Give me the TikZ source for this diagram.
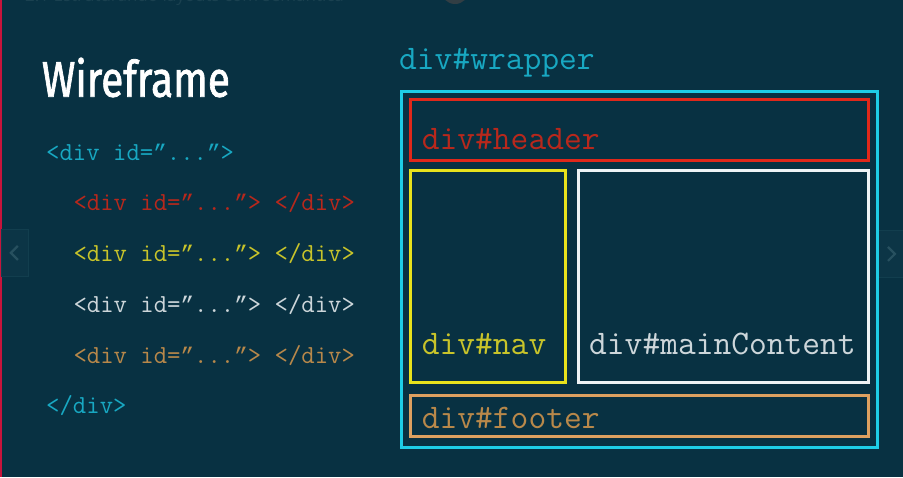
\documentclass[tikz,border=0pt]{standalone}
\usepackage{fontspec}
\usepackage{graphicx}
\newfontfamily\titlefont[FakeBold=1.6]{Fira Sans}
\newfontfamily\topfont{Open Sans}
\newfontfamily\qfont{Liberation Mono}
\newcommand\cq{{\qfont\fontsize{22.6pt}{26pt}\selectfont ”}}
\definecolor{bg}{HTML}{083142}
\definecolor{cybrd}{HTML}{1ECDE6}
\definecolor{cytxt}{HTML}{18A8C2}
\definecolor{rdbrd}{HTML}{E0281A}
\definecolor{rdtxt}{HTML}{B8281C}
\definecolor{ylbrd}{HTML}{E8E21C}
\definecolor{yltxt}{HTML}{C8C42A}
\definecolor{whbrd}{HTML}{EEF3F5}
\definecolor{whtxt}{HTML}{CDD6DA}
\definecolor{orbrd}{HTML}{DDA060}
\definecolor{ortxt}{HTML}{B8884A}
\definecolor{faint}{HTML}{1A4150}
\definecolor{navbox}{HTML}{0C3546}
\definecolor{navedge}{HTML}{123E4E}
\definecolor{navchev}{HTML}{27505F}
\definecolor{redline}{HTML}{C8143C}
\definecolor{capgray}{HTML}{323E44}
\tikzset{
  wire/.style={draw=#1, line width=3pt, inner sep=0pt, outer sep=0pt, anchor=north west},
  boxlabel/.style={text=#1, font=\ttfamily\fontsize{34.5pt}{35pt}\selectfont, anchor=base west, inner sep=0pt},
  codeline/.style={text=#1, font=\ttfamily\fontsize{26pt}{26pt}\selectfont, anchor=base west, inner sep=0pt},
  navbtn/.style={fill=navbox, draw=navedge, line width=0.8pt, inner sep=0pt, anchor=north west, minimum width=27pt, minimum height=47pt},
  chev/.style={draw=navchev, line width=2.2pt}
}
\begin{document}
\begin{tikzpicture}[x=1pt, y=-1pt]
\useasboundingbox (0,0) rectangle (903,477);
\fill[bg] (0,0) rectangle (903,477);
\begin{scope}
\clip (0,0) rectangle (903,477);
\fill[capgray] (455,-10) circle (14);
\node[text=faint, font=\topfont\fontsize{17pt}{17pt}\selectfont, anchor=base west, inner sep=0pt] (toptitle) at (25,1) {2.1 Estruturando layouts com semântica};
\end{scope}
\fill[redline] (0,0) rectangle (1.5,477);
% navigation buttons
\node[navbtn] (prevbtn) at (1,229) {};
\draw[chev] ([xshift=3pt,yshift=7pt]prevbtn.center) -- ([xshift=-4pt]prevbtn.center) -- ([xshift=3pt,yshift=-7pt]prevbtn.center);
\node[navbtn] (nextbtn) at (877,230) {};
\draw[chev] ([xshift=-3pt,yshift=7pt]nextbtn.center) -- ([xshift=4pt]nextbtn.center) -- ([xshift=-3pt,yshift=-7pt]nextbtn.center);
% title
\node[anchor=base west, inner sep=0pt, text=white] (title) at (41.7,96.7) {\resizebox{188pt}{39pt}{\titlefont Wireframe}};
% code lines
\node[codeline=cytxt] (c1) at (46,160) {<div id=\cq...\cq>};
\node[codeline=rdtxt] (c2) at (73.3,210.7) {<div id=\cq...\cq> </div>};
\node[codeline=yltxt] (c3) at (73.3,261.7) {<div id=\cq...\cq> </div>};
\node[codeline=whtxt] (c4) at (73.3,312.3) {<div id=\cq...\cq> </div>};
\node[codeline=ortxt] (c5) at (73.3,363) {<div id=\cq...\cq> </div>};
\node[codeline=cytxt] (c6) at (46,413.3) {</div>};
% wireframe boxes
\node[boxlabel=cytxt] (lwrapper) at (399,69) {div\#wrapper};
\node[wire=cybrd, minimum width=476pt, minimum height=356.3pt] (wrapper) at (401.5,91.5) {};
\node[wire=rdbrd, minimum width=458pt, minimum height=60.4pt] (header) at (410.5,99.8) {};
\node[wire=ylbrd, minimum width=155pt, minimum height=211.7pt] (nav) at (410.5,170.8) {};
\node[wire=whbrd, minimum width=290.3pt, minimum height=211.7pt] (main) at (578.5,170.8) {};
\node[wire=orbrd, minimum width=458pt, minimum height=41pt] (footer) at (410.5,395.5) {};
\node[boxlabel=rdtxt] (lheader) at (421.7,149) {div\#header};
\node[boxlabel=yltxt] (lnav) at (421.7,354) {div\#nav};
\node[boxlabel=whtxt] (lmain) at (589,354) {div\#mainContent};
\node[boxlabel=ortxt] (lfooter) at (421.7,428) {div\#footer};
\end{tikzpicture}
\end{document}
